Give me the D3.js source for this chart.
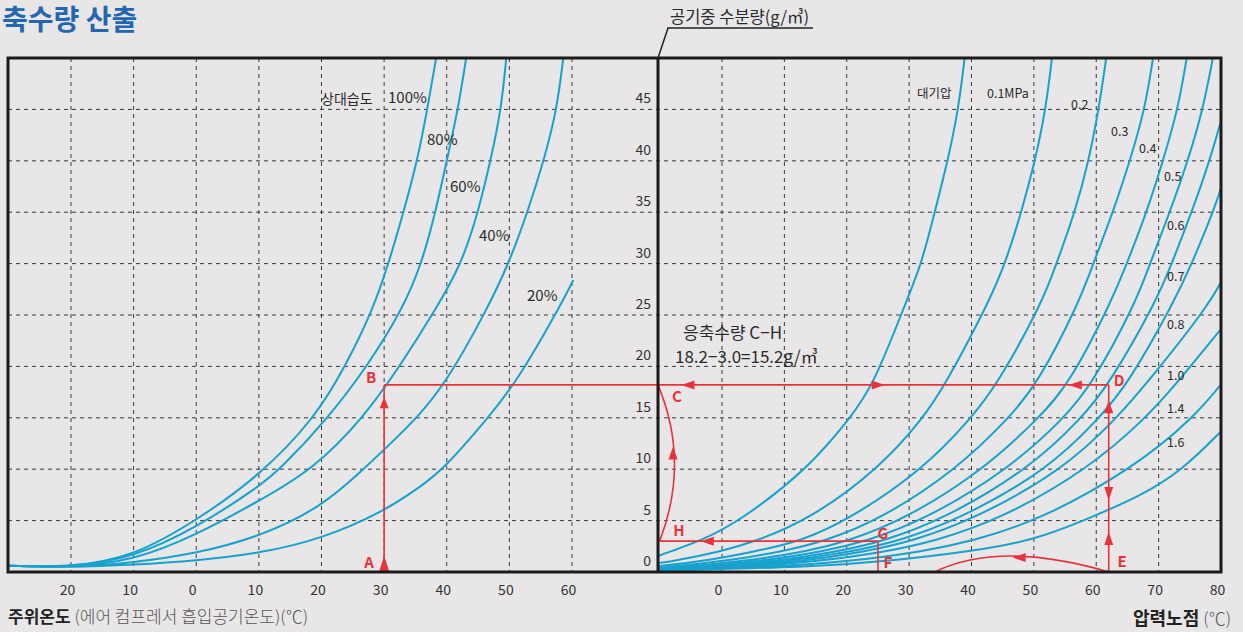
<!DOCTYPE html>
<meta charset="utf-8">
<style>
body { margin: 0; background: #e8e6e7; }
svg { display: block; font-family: "Noto Sans CJK KR", "Noto Sans", sans-serif; }
.grid line { stroke: #3a3a3a; stroke-width: 1; stroke-dasharray: 4,4; }
.curve { fill: none; stroke: #16a2cf; stroke-width: 2; }
.frame { fill: none; stroke: #1b1b1b; stroke-width: 3; }
.red { fill: none; stroke: #e8333a; stroke-width: 1.6; }
.arrow { fill: #e8333a; }
.pt { fill: #e8333a; font-weight: bold; font-size: 15px; text-anchor: middle; }
.lbl { fill: #2b2b2b; }
</style>
<body>
<script src="https://d3js.org/d3.v7.min.js"></script>
<script>

// ---- data ----
// left panel: relative humidity curves, temperature (°C) vs water content (g/m3)
var rhNames = ["100%", "80%", "60%", "40%", "20%"];
var rh100T = [-30, -20, -10, 0, 10, 19, 23.8, 28.2, 30.7, 33.1, 35.3, 36.9, 38.3];
var rh100V = [0.6, 0.45, 1.5, 5, 9.3, 15, 20, 25.5, 30, 35, 40, 45, 50];
var rh80T = [-30, -20, -10, 0, 10, 13.4, 21.1, 27.3, 32.9, 36.0, 38.2, 40.0, 41.8, 43.1];
var rh80V = [0.6, 0.45, 1.4, 4.3, 8.3, 10, 15, 20, 25.5, 30, 35, 40, 45, 50];
var rh60T = [-30, -20, -10, 0, 10, 18.7, 26.7, 32.5, 38.2, 42.4, 45.0, 47.0, 48.7, 49.5];
var rh60V = [0.6, 0.45, 1.1, 3.6, 6.9, 10, 15, 20, 25.5, 30, 35, 40, 45, 50];
var rh40T = [-30, -20, -10, 0, 10, 20, 26.7, 30, 35.3, 40.0, 46.4, 49.9, 52.9, 55.5, 57.6, 58.6];
var rh40V = [0.6, 0.45, 0.9, 1.8, 3.4, 6.3, 10, 11.9, 15, 18.5, 25.5, 30, 35, 40, 45, 50];
var rh20T = [-30, -20, -10, 0, 10, 20, 30, 35.8, 39.5, 46.6, 51.2, 58.6, 60.2];
var rh20V = [0.6, 0.45, 0.7, 1.1, 1.8, 3.2, 5.9, 8.3, 10, 15, 18.5, 26.4, 28.4];

// right panel: pressure dew point curves, temperature (°C) vs water content (g/m3)
var pNames = ["대기압", "0.1MPa", "0.2", "0.3", "0.4", "0.5", "0.6", "0.7", "0.8", "1.0", "1.4", "1.6"];
var pAtmT = [-10.5, -8.3, -3.5, 3, 13.7, 20.6, 24.3, 29.6, 32.0, 34.1, 36.2, 37.9, 38.9];
var pAtmV = [1.5, 2, 3, 5, 10, 15, 18.2, 26.4, 30, 35, 40, 45, 50];
var p01T = [-10.5, -8.3, -0.1, 5.4, 13.7, 25.1, 32.3, 35.8, 42.9, 45.4, 48.0, 50.2, 51.9, 52.9];
var p01V = [0.85, 1, 2, 3, 5, 10, 15, 18.2, 26.4, 30, 35, 40, 45, 50];
var p02T = [-10.5, -3.5, 5.4, 12.6, 20.1, 32.3, 40.0, 44.1, 51.5, 53.6, 56.6, 58.8, 60.4, 61.6];
var p02V = [0.55, 1, 2, 3, 5, 10, 15, 18.2, 26.4, 30, 35, 40, 45, 50];
var p03T = [-10.5, -8.3, -0.1, 9.8, 16.4, 25.1, 37.7, 46.0, 50.5, 57.4, 59.5, 62.7, 65.4, 67.8, 69.1];
var p03V = [0.45, 0.5, 1, 2, 3, 5, 10, 15, 18.2, 26.4, 30, 35, 40, 45, 50];
var p04T = [-10.5, -5.9, 3, 13.7, 20.1, 29, 42.1, 50.8, 55.6, 62.5, 64.9, 68.1, 70.7, 73.1, 74.5];
var p04V = [0.35, 0.5, 1, 2, 3, 5, 10, 15, 18.2, 26.4, 30, 35, 40, 45, 50];
var p05T = [-10.5, -3.5, 5.4, 16.4, 23.1, 32.3, 46, 54.9, 59.3, 66.5, 68.6, 71.8, 74.7, 77.1, 78.7];
var p05V = [0.3, 0.5, 1, 2, 3, 5, 10, 15, 18.2, 26.4, 30, 35, 40, 45, 50];
var p06T = [-10.5, -1.8, 7.7, 18.8, 25.8, 35.1, 49.2, 57.7, 62, 69.7, 72.1, 75.3, 78.2, 81.0];
var p06V = [0.25, 0.5, 1, 2, 3, 5, 10, 15, 18.2, 26.4, 30, 35, 40, 46];
var p07T = [-10.5, -0.1, 9.8, 21, 28.2, 37.7, 52.4, 60.5, 65, 72.6, 75.3, 78.7, 81.5];
var p07V = [0.22, 0.5, 1, 2, 3, 5, 10, 15, 18.2, 26.4, 30, 34.9, 40];
var p08T = [-10.5, 1.5, 12.6, 23.1, 30.4, 40, 54.9, 63.3, 67.9, 78.7, 81.5];
var p08V = [0.2, 0.5, 1, 2, 3, 5, 10, 15, 18.2, 26.4, 30];
var p10T = [-10.5, 4.2, 15.1, 26.6, 34, 44.2, 58.7, 68, 72.7, 80.5];
var p10V = [0.17, 0.5, 1, 2, 3, 5, 10, 15, 18.2, 24];
var p14T = [-10.5, 8.8, 20.1, 32.3, 40, 50.8, 65.7, 75.7, 81];
var p14V = [0.13, 0.5, 1, 2, 3, 5, 10, 15, 19];
var p16T = [-10.5, 14.4, 25.8, 40, 50, 58, 67.5, 73.7, 79.8, 82];
var p16V = [0.12, 0.5, 1, 2, 3.1, 5, 7.5, 9.9, 13.5, 15];

// axis ticks
var leftTicks = [-20, -10, 0, 10, 20, 30, 40, 50, 60];
var rightTicks = [0, 10, 20, 30, 40, 50, 60, 70, 80];
var waterTicks = [0, 5, 10, 15, 20, 25, 30, 35, 40, 45];

// worked example (condensate C-H): points A..H as [temperature, g/m3]
var ptA = [30, 0], ptB = [30, 18.2];
var ptC = [-10.26, 18.2], ptD = [62, 18.2], ptE = [62, 0];
var ptF = [25, 0], ptG = [25, 3.0], ptH = [-10.0, 3.0];

// ---- drawing ----
var width = 1243, height = 632;
var plotTop = 58, plotBottom = 572, leftEdge = 8, mid = 658, rightEdge = 1221;

var y = d3.scaleLinear().domain([0, 50]).range([plotBottom, plotTop]);
var xL = d3.scaleLinear().domain([-20, 60]).range([71, 572]);
var xR = d3.scaleLinear().domain([0, 80]).range([722, 1221]);

var svg = d3.select("body").append("svg")
    .attr("width", width)
    .attr("height", height);

svg.append("rect").attr("width", width).attr("height", height).attr("fill", "#e8e6e7");

var defs = svg.append("defs");
defs.append("clipPath").attr("id", "clipL").append("rect")
    .attr("x", leftEdge).attr("y", plotTop).attr("width", mid - leftEdge).attr("height", plotBottom - plotTop);
defs.append("clipPath").attr("id", "clipR").append("rect")
    .attr("x", mid).attr("y", plotTop).attr("width", rightEdge - mid).attr("height", plotBottom - plotTop);

// grid
var grid = svg.append("g").attr("class", "grid");
grid.selectAll(".vl").data(leftTicks).enter().append("line")
    .attr("x1", d => xL(d)).attr("x2", d => xL(d))
    .attr("y1", plotTop).attr("y2", plotBottom);
grid.selectAll(".vr").data(rightTicks.slice(0, -1)).enter().append("line")
    .attr("x1", d => xR(d)).attr("x2", d => xR(d))
    .attr("y1", plotTop).attr("y2", plotBottom);
grid.selectAll(".h").data(waterTicks.slice(1)).enter().append("line")
    .attr("x1", leftEdge).attr("x2", rightEdge)
    .attr("y1", d => y(d)).attr("y2", d => y(d));

// curves
function zip(ts, vs) { return ts.map(function(t, i) { return [t, vs[i]]; }); }

var leftCurves = [zip(rh100T, rh100V), zip(rh80T, rh80V), zip(rh60T, rh60V), zip(rh40T, rh40V), zip(rh20T, rh20V)];
var rightCurves = [zip(pAtmT, pAtmV), zip(p01T, p01V), zip(p02T, p02V), zip(p03T, p03V), zip(p04T, p04V),
  zip(p05T, p05V), zip(p06T, p06V), zip(p07T, p07V), zip(p08T, p08V), zip(p10T, p10V), zip(p14T, p14V), zip(p16T, p16V)];

// read-off points are a little noisy, so a smoothing spline is used
var lineL = d3.line().x(d => xL(d[0])).y(d => y(d[1])).curve(d3.curveBasis);
var lineR = d3.line().x(d => xR(d[0])).y(d => y(d[1])).curve(d3.curveBasis);

svg.append("g").attr("clip-path", "url(#clipL)")
  .selectAll("path").data(leftCurves).enter().append("path")
    .attr("class", "curve").attr("d", lineL);
svg.append("g").attr("clip-path", "url(#clipR)")
  .selectAll("path").data(rightCurves).enter().append("path")
    .attr("class", "curve").attr("d", lineR);

// red worked example
var red = svg.append("g");
function seg(x1, y1, x2, y2) {
  red.append("line").attr("class", "red")
    .attr("x1", x1).attr("y1", y1).attr("x2", x2).attr("y2", y2);
}
seg(xL(ptA[0]), y(ptA[1]), xL(ptB[0]), y(ptB[1]));
seg(xL(ptB[0]), y(ptB[1]), xR(ptD[0]), y(ptD[1]));
seg(xR(ptD[0]), y(ptD[1]), xR(ptE[0]), y(ptE[1]));
seg(xR(ptH[0]), y(ptH[1]), xR(ptG[0]), y(ptG[1]));
seg(xR(ptG[0]), y(ptG[1]), xR(ptF[0]), y(ptF[1]));

var arc1 = d3.path();
arc1.moveTo(xR(ptC[0]), y(ptC[1]));
arc1.quadraticCurveTo(xR(-5.1), y(10.7), xR(ptH[0]), y(ptH[1]));
red.append("path").attr("class", "red").attr("d", arc1.toString());

var arc2 = d3.path();
arc2.moveTo(xR(ptE[0]), y(ptE[1]));
arc2.quadraticCurveTo(xR(44.6), y(3.1), xR(34.1), y(0));
red.append("path").attr("class", "red").attr("d", arc2.toString());

function arrow(px, py, dir, len, hw) {
  len = len || 13; hw = hw || 4.5;
  var pts;
  if (dir === "up") pts = [[px, py], [px - hw, py + len], [px + hw, py + len]];
  else if (dir === "down") pts = [[px, py], [px - hw, py - len], [px + hw, py - len]];
  else if (dir === "left") pts = [[px, py], [px + len, py - hw], [px + len, py + hw]];
  else pts = [[px, py], [px - len, py - hw], [px - len, py + hw]];
  red.append("path").attr("class", "arrow").attr("d", "M" + pts.join("L") + "Z");
}
arrow(xL(30), y(1.6), "up", 16, 5);
arrow(xL(30), y(17.0), "up", 11, 4.5);
[[-6.5, 18.2, "left"], [26.1, 18.2, "right"], [55.6, 18.2, "left"],
 [62, 16.7, "up"], [62, 7.0, "down"], [62, 3.9, "up"],
 [-3.4, 3.0, "left"], [-7.85, 12.2, "up"], [46.6, 1.4, "left"]].forEach(function(a) {
  arrow(xR(a[0]), y(a[1]), a[2]);
});

// frame
svg.append("rect").attr("class", "frame")
    .attr("x", leftEdge).attr("y", plotTop).attr("width", rightEdge - leftEdge).attr("height", plotBottom - plotTop);
svg.append("line").attr("class", "frame")
    .attr("x1", mid).attr("x2", mid).attr("y1", plotTop).attr("y2", plotBottom);

// axes
function styleAxis(g, size) {
  g.select(".domain").remove();
  g.attr("font-size", size).attr("font-family", null);
  g.selectAll("text").attr("fill", "#333");
}
svg.append("g").attr("transform", "translate(-4,585)")
  .call(d3.axisBottom(xL).tickValues(leftTicks).tickSize(0).tickPadding(0).tickFormat(d => Math.abs(d)))
  .call(styleAxis, 14);
svg.append("g").attr("transform", "translate(-4,585)")
  .call(d3.axisBottom(xR).tickValues(rightTicks).tickSize(0).tickPadding(0))
  .call(styleAxis, 14);
svg.append("g").attr("transform", "translate(651,-11)")
  .call(d3.axisLeft(y).tickValues(waterTicks).tickSize(0).tickPadding(0))
  .call(styleAxis, 14);

// texts
svg.append("text").attr("x", 2).attr("y", 30)
    .attr("font-size", 28).attr("font-weight", "bold").attr("fill", "#2466b0")
    .text("축수량 산출");

svg.append("path").attr("d", "M" + mid + "," + plotTop + "L668,28L813,28")
    .attr("fill", "none").attr("stroke", "#222").attr("stroke-width", 1.5);
svg.append("text").attr("class", "lbl").attr("x", 670).attr("y", 23).attr("font-size", 16.5)
    .text("공기중 수분량(g/㎥)");

var bl = svg.append("text").attr("x", 8).attr("y", 623).attr("fill", "#222");
bl.append("tspan").attr("font-size", 17).attr("font-weight", "bold").text("주위온도 ");
bl.append("tspan").attr("font-size", 17).attr("fill", "#555").attr("font-weight", 300).text("(에어 컴프레서 흡입공기온도)(℃)");

var br = svg.append("text").attr("x", 1133).attr("y", 625).attr("fill", "#222");
br.append("tspan").attr("font-size", 18).attr("font-weight", "bold").text("압력노점 ");
br.append("tspan").attr("font-size", 17).attr("fill", "#555").attr("font-weight", 300).text("(℃)");

// left curve labels
var lblL = svg.append("g").attr("class", "lbl").attr("font-size", 15);
lblL.append("text").attr("x", 321).attr("y", 104).attr("font-size", 14).text("상대습도");
[[388, 103], [427, 145], [450, 192], [479, 241], [527, 301]].forEach(function(p, i) {
  lblL.append("text").attr("x", p[0]).attr("y", p[1]).text(rhNames[i]);
});

// right curve labels
var lblR = svg.append("g").attr("class", "lbl").attr("font-size", 12.5);
[[917, 98], [987, 98], [1071, 109], [1111, 136], [1139, 153], [1164, 181], [1167, 230],
 [1167, 281], [1167, 329], [1167, 380], [1167, 413], [1167, 447]].forEach(function(p, i) {
  lblR.append("text").attr("x", p[0]).attr("y", p[1]).text(pNames[i]);
});

// worked example note
svg.append("text").attr("class", "lbl").attr("x", 683).attr("y", 339).attr("font-size", 17)
    .text("응축수량 C−H");
svg.append("text").attr("class", "lbl").attr("x", 675).attr("y", 363).attr("font-size", 17)
    .text("18.2−3.0=15.2g/㎥");

// point letters
var pts = svg.append("g");
[["A", 369, 568], ["B", 371, 383], ["C", 677, 402], ["D", 1119, 386],
 ["E", 1122, 567], ["H", 679, 536], ["G", 883, 539], ["F", 888, 568]].forEach(function(p) {
  pts.append("text").attr("class", "pt").attr("x", p[1]).attr("y", p[2]).text(p[0]);
});

</script>
